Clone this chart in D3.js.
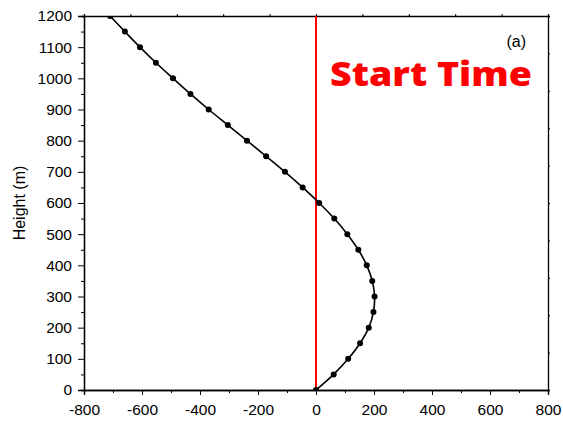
<!DOCTYPE html>
<html>
<head>
<meta charset="utf-8">
<script src="https://cdn.jsdelivr.net/npm/d3@7"></script>
<style>
  html, body { margin: 0; padding: 0; background: #fff; }
  svg { display: block; }
  text { font-family: "Liberation Sans", Arial, sans-serif; }
</style>
</head>
<body>
<svg id="chart" width="563" height="421"></svg>
<script>
// Wind component profile against height
const heights = [0, 50, 100, 150, 200, 250, 300, 350, 400, 450, 500, 550, 600,
                 650, 700, 750, 800, 850, 900, 950, 1000, 1050, 1100, 1150, 1200];
const values = [0, 61, 111, 152, 182, 198, 202, 194, 175, 146, 108, 63, 11,
                -46, -107, -172, -238, -304, -370, -433, -493, -552, -607, -659, -710];
const xTicks = [-800, -600, -400, -200, 0, 200, 400, 600, 800];
const yTicks = [0, 100, 200, 300, 400, 500, 600, 700, 800, 900, 1000, 1100, 1200];
const yLabel = "Height (m)";
const panelLabel = "(a)";
const title = "Start Time";

const svg = d3.select("#chart");
const margin = { left: 84, right: 15, top: 16, bottom: 31 };
const W = 563, H = 421;
const x = d3.scaleLinear().domain([-800, 800]).range([margin.left, W - margin.right]);
const y = d3.scaleLinear().domain([0, 1200]).range([H - margin.bottom, margin.top]);

const x0 = x.range()[0], x1 = x.range()[1];
const y0 = y.range()[0], y1 = y.range()[1];

svg.append("defs").append("clipPath").attr("id", "plotClip")
  .append("rect").attr("x", x0).attr("y", y1).attr("width", x1 - x0).attr("height", y0 - y1);

// Plain hyphen-minus integer labels
const fmt = v => String(v);

// Minor ticks
const minorX = d3.range(-800, 801, 100).filter(v => !xTicks.includes(v));
const minorY = d3.range(0, 1201, 50).filter(v => !yTicks.includes(v));

// Bottom axis
svg.append("g").attr("transform", `translate(0,${y0})`)
  .call(d3.axisBottom(x).tickValues(xTicks).tickFormat(fmt).tickSize(5).tickPadding(9));
svg.append("g").attr("transform", `translate(0,${y0})`)
  .call(d3.axisBottom(x).tickValues(minorX).tickSize(3).tickFormat(""));

// Left axis
svg.append("g").attr("transform", `translate(${x0},0)`)
  .call(d3.axisLeft(y).tickValues(yTicks).tickFormat(fmt).tickSize(6).tickPadding(6));
svg.append("g").attr("transform", `translate(${x0},0)`)
  .call(d3.axisLeft(y).tickValues(minorY).tickSize(3).tickFormat(""));

// Top and right frame axes
svg.append("g").attr("transform", `translate(0,${y1})`)
  .call(d3.axisTop(x).tickValues(d3.range(-800, 801, 160)).tickSize(2).tickFormat(""));
svg.append("g").attr("transform", `translate(${x1},0)`)
  .call(d3.axisRight(y).tickValues(d3.range(0, 1201, 120)).tickSize(2).tickFormat(""));

svg.selectAll(".domain").attr("stroke", "#000").attr("stroke-width", 1.3);
svg.selectAll(".tick line").attr("stroke", "#000").attr("stroke-width", 1);
svg.selectAll(".tick text").attr("fill", "#000").style("font-size", "15.5px")
  .style("font-family", "'Liberation Sans', Arial, sans-serif");

// Axis title
svg.append("text")
  .attr("transform", `translate(25,${(y0 + y1) / 2}) rotate(-90)`)
  .attr("text-anchor", "middle")
  .attr("fill", "#000")
  .style("font-size", "16px")
  .text(yLabel);

// Zero reference line
svg.append("line")
  .attr("x1", x(0)).attr("x2", x(0))
  .attr("y1", y0).attr("y2", y1)
  .attr("stroke", "#ff0000").attr("stroke-width", 2);

// Profile line and markers
const pts = heights.map((h, i) => ({ h, v: values[i] }));
const plot = svg.append("g").attr("clip-path", "url(#plotClip)");
plot.append("path")
  .datum(pts)
  .attr("fill", "none")
  .attr("stroke", "#000")
  .attr("stroke-width", 1.6)
  .attr("d", d3.line().x(d => x(d.v)).y(d => y(d.h)).curve(d3.curveCatmullRom));
plot.selectAll("circle").data(pts).enter().append("circle")
  .attr("cx", d => x(d.v)).attr("cy", d => y(d.h))
  .attr("r", 3).attr("fill", "#000");

// Panel labels
svg.append("text")
  .attr("x", 526).attr("y", 47)
  .attr("text-anchor", "end")
  .attr("fill", "#000")
  .style("font-size", "16px")
  .text(panelLabel);

svg.append("text")
  .attr("x", 330).attr("y", 86)
  .attr("fill", "#ff0000")
  .attr("textLength", 202)
  .attr("lengthAdjust", "spacingAndGlyphs")
  .style("font-family", "'Open Sans', 'Noto Sans', sans-serif")
  .style("font-weight", "800")
  .style("font-size", "33px")
  .text(title);
</script>
</body>
</html>
